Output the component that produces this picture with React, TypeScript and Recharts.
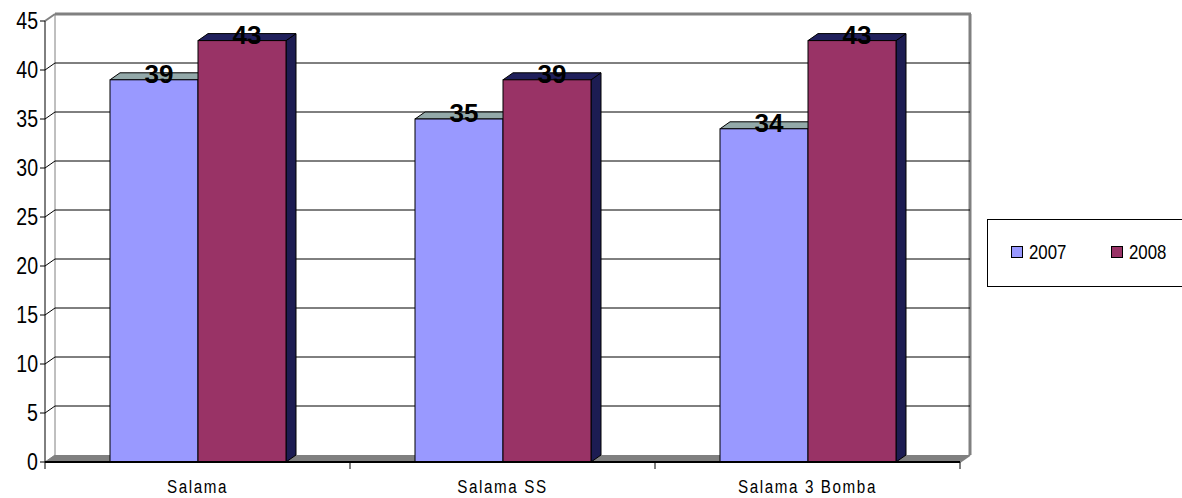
import React from 'react';
import { BarChart, Bar, XAxis, YAxis, CartesianGrid, LabelList } from 'recharts';

const categories = ['Salama', 'Salama SS', 'Salama 3 Bomba'];
const values2007 = [39, 35, 34];
const values2008 = [43, 39, 43];
const seriesNames = ['2007', '2008'];
const yTicks = [0, 5, 10, 15, 20, 25, 30, 35, 40, 45];

const data = categories.map((name, i) => ({
  name,
  y2007: values2007[i],
  y2008: values2008[i],
}));

const W = 1182;
const H = 498;
const PLOT = { left: 45, right: 960, top: 21, bottom: 462 };
const DX = 10;
const DY = 7;
const FONT = "'Liberation Sans', Arial, sans-serif";

const colors = {
  y2007: { front: '#9999ff', top: '#93a9a9', side: '#6a6ab0' },
  y2008: { front: '#993366', top: '#20205c', side: '#1c1c52' },
};
const seriesColors = [colors.y2007.front, colors.y2008.front];

const make3DBar = (c: { front: string; top: string; side: string }) => (props: any) => {
  const { x, y, width, height } = props;
  if (!width || !height) return <g />;
  const b = y + height;
  const r = x + width;
  return (
    <g>
      <polygon points={`${r},${y} ${r + DX},${y - DY} ${r + DX},${b - DY} ${r},${b}`} fill={c.side} stroke="#000" strokeWidth={1} />
      <polygon points={`${x},${y} ${x + DX},${y - DY} ${r + DX},${y - DY} ${r},${y}`} fill={c.top} stroke="#000" strokeWidth={1} />
      <rect x={x} y={y} width={width} height={height} fill={c.front} stroke="#000" strokeWidth={1} />
    </g>
  );
};

// back-wall gridlines, shifted by the 3D depth, plus the little diagonal on the side wall
const gridLine = (props: any) => {
  const { x1, y1, x2, index } = props;
  if (Math.abs(y1 - PLOT.bottom) < 1 || Math.abs(y1 - PLOT.top) < 1) return <g key={`g-${index}`} />;
  return (
    <g key={`g-${index}`}>
      <line x1={x1} y1={y1} x2={x1 + DX} y2={y1 - DY} stroke="#000" strokeWidth={1} />
      <line x1={x1 + DX} y1={y1 - DY} x2={x2 + DX} y2={y1 - DY} stroke="#000" strokeWidth={1} />
    </g>
  );
};

const ValueTick = (props: any) => {
  const { x, y, payload } = props;
  return (
    <text transform={`translate(${x},${y}) scale(0.85,1)`} textAnchor="end" dy="0.36em" fontFamily={FONT} fontSize={23} fill="#000">
      {payload.value}
    </text>
  );
};

const CategoryTick = (props: any) => {
  const { x, payload, index } = props;
  const half = (PLOT.right - PLOT.left) / categories.length / 2;
  return (
    <g>
      {index === 0 && <line x1={x - half} y1={PLOT.bottom} x2={x - half} y2={PLOT.bottom + 7} stroke="#000" />}
      <line x1={x + half} y1={PLOT.bottom} x2={x + half} y2={PLOT.bottom + 7} stroke="#000" />
      <text
        transform={`translate(${x},${PLOT.bottom + 31}) scale(0.8,1)`}
        textAnchor="middle"
        fontFamily={FONT}
        fontSize={19}
        letterSpacing={2}
        fill="#000"
      >
        {payload.value}
      </text>
    </g>
  );
};

const ValueLabel = (props: any) => {
  const { x, y, width, value } = props;
  return (
    <text x={x + width / 2 + DX / 2} y={y + 3} textAnchor="middle" fontFamily={FONT} fontWeight="bold" fontSize={26} fill="#000">
      {value}
    </text>
  );
};

const LegendBox = () => (
  <div
    style={{
      position: 'absolute',
      left: 987,
      top: 219,
      width: 210,
      height: 68,
      border: '1px solid #000',
      boxSizing: 'border-box',
      background: '#fff',
    }}
  >
    {seriesNames.map((name, i) => (
      <div key={name} style={{ position: 'absolute', left: 23 + i * 100, top: 20, display: 'flex', alignItems: 'center' }}>
        <span style={{ width: 10, height: 10, background: seriesColors[i], border: '1px solid #000', display: 'inline-block' }} />
        <span
          style={{
            marginLeft: 6,
            fontFamily: FONT,
            fontSize: 20,
            color: '#000',
            lineHeight: '24px',
            display: 'inline-block',
            transform: 'scaleX(0.84)',
            transformOrigin: 'left center',
          }}
        >
          {name}
        </span>
      </div>
    ))}
  </div>
);

export default function App() {
  return (
    <div style={{ position: 'absolute', left: 0, top: 0, width: W, height: H, overflow: 'hidden', background: '#fff' }}>
      <svg width={W} height={H} style={{ position: 'absolute', left: 0, top: 0 }}>
        <polygon
          points={`${PLOT.left},${PLOT.bottom} ${PLOT.right},${PLOT.bottom} ${PLOT.right + DX},${PLOT.bottom - DY} ${PLOT.left + DX},${PLOT.bottom - DY}`}
          fill="#808080"
        />
        <line x1={PLOT.left + DX} y1={PLOT.top - DY} x2={PLOT.left + DX} y2={PLOT.bottom - DY} stroke="#808080" strokeWidth={1} />
        <line x1={PLOT.left} y1={PLOT.top} x2={PLOT.left + DX} y2={PLOT.top - DY} stroke="#808080" strokeWidth={2} />
        <line x1={PLOT.left} y1={PLOT.bottom} x2={PLOT.left + DX} y2={PLOT.bottom - DY} stroke="#808080" strokeWidth={1} />
        <line x1={PLOT.left + DX} y1={PLOT.top - DY} x2={PLOT.right + DX + 1} y2={PLOT.top - DY} stroke="#808080" strokeWidth={3} />
        <line x1={PLOT.right + DX} y1={PLOT.top - DY} x2={PLOT.right + DX} y2={PLOT.bottom - DY} stroke="#808080" strokeWidth={3} />
        <line x1={PLOT.right + DX} y1={PLOT.bottom - DY} x2={PLOT.right} y2={PLOT.bottom} stroke="#808080" strokeWidth={2} />
      </svg>
      <div style={{ position: 'absolute', left: 0, top: 0 }}>
        <BarChart
          width={W}
          height={H}
          data={data}
          margin={{ top: PLOT.top, right: W - PLOT.right, bottom: 0, left: 0 }}
          barCategoryGap={65}
          barGap={0}
        >
          <CartesianGrid horizontal={gridLine} vertical={false} />
          <XAxis
            dataKey="name"
            height={H - PLOT.bottom}
            axisLine={{ stroke: '#000', strokeWidth: 2 }}
            tickLine={false}
            tick={<CategoryTick />}
            interval={0}
          />
          <YAxis
            width={PLOT.left}
            domain={[0, 45]}
            ticks={yTicks}
            interval={0}
            axisLine={{ stroke: '#000', strokeWidth: 1 }}
            tickLine={{ stroke: '#000' }}
            tickSize={5}
            tick={<ValueTick />}
            tickMargin={2}
          />
          <Bar dataKey="y2007" name={seriesNames[0]} fill={colors.y2007.front} shape={make3DBar(colors.y2007)} isAnimationActive={false}>
            <LabelList dataKey="y2007" content={<ValueLabel />} />
          </Bar>
          <Bar dataKey="y2008" name={seriesNames[1]} fill={colors.y2008.front} shape={make3DBar(colors.y2008)} isAnimationActive={false}>
            <LabelList dataKey="y2008" content={<ValueLabel />} />
          </Bar>
        </BarChart>
      </div>
      <LegendBox />
    </div>
  );
}
